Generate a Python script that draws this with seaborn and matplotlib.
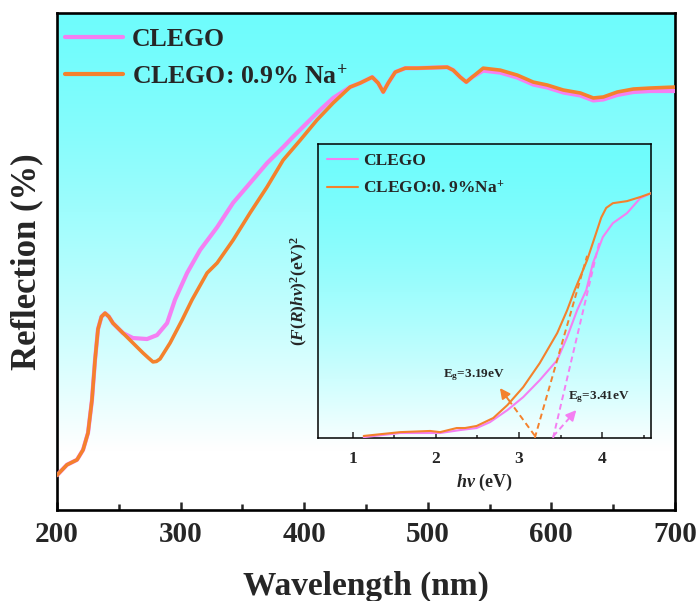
import numpy as np
import pandas as pd
import matplotlib
matplotlib.use("Agg")
import matplotlib.pyplot as plt
import seaborn as sns
from matplotlib.colors import to_rgb
from matplotlib.ticker import MultipleLocator

# ---------------- data: diffuse reflectance spectra ----------------
wl_clego = [200, 208.1, 216.2, 221.1, 225.1, 228.3, 230.8, 233.2, 236.0, 238.9, 242.0,
            245.3, 253.4, 261.5, 272.9, 281.0, 289.1, 295.5, 305.3, 315.8, 329.6, 342.5,
            356.3, 370.0, 383.0, 391.1, 402.4, 413.0, 423.5, 437.2, 445.3, 455.1, 459.9,
            464.0, 468.0, 473.7, 481.8, 491.5, 515.8, 520.6, 526.3, 531.2, 536.0, 544.9,
            558.7, 572.5, 585.4, 596.8, 609.7, 623.5, 634.0, 642.1, 653.4, 666.4, 680.2,
            700]
refl_clego = [7.0, 9.1, 10.1, 12.1, 15.5, 22.1, 30.2, 36.4, 38.9, 39.6, 38.9,
              37.6, 35.6, 34.6, 34.4, 35.2, 37.6, 42.3, 47.7, 52.3, 56.9, 61.8,
              65.8, 69.8, 73.0, 75.1, 77.9, 80.5, 82.9, 85.1, 85.9, 87.1, 85.9,
              84.1, 85.9, 88.1, 88.9, 88.9, 89.1, 88.5, 87.1, 86.1, 87.1, 88.4,
              88.0, 87.0, 85.6, 85.0, 84.0, 83.4, 82.4, 82.6, 83.5, 84.1, 84.3,
              84.3]

wl_na = [200, 208.1, 216.2, 221.1, 225.1, 228.3, 230.8, 233.2, 236.0, 238.9, 242.0,
         245.3, 253.4, 261.5, 269.6, 274.0, 277.7, 280.5, 283.4, 291.5, 301.2, 309.3,
         321.5, 329.6, 342.5, 356.3, 370.0, 383.0, 396.8, 410.5, 423.5, 437.2, 445.3,
         455.1, 459.9, 464.0, 468.0, 473.7, 481.8, 491.5, 515.8, 520.6, 526.3, 531.2,
         536.0, 544.9, 558.7, 572.5, 585.4, 596.8, 609.7, 623.5, 634.0, 642.1, 653.4,
         666.4, 680.2, 700]
refl_na = [7.0, 9.1, 10.1, 12.1, 15.5, 22.1, 30.2, 36.4, 38.9, 39.6, 38.9,
           37.6, 35.6, 33.6, 31.6, 30.6, 29.8, 29.9, 30.4, 33.6, 38.2, 42.3,
           47.7, 49.7, 54.3, 59.8, 65.0, 70.4, 74.4, 78.5, 81.9, 85.1, 85.9,
           87.1, 85.9, 84.1, 85.9, 88.1, 88.9, 88.9, 89.1, 88.5, 87.1, 86.1,
           87.1, 88.9, 88.5, 87.5, 86.1, 85.5, 84.5, 83.9, 82.9, 83.1, 84.1,
           84.7, 84.9, 85.1]

# ---------------- data: Tauc plot ----------------
ev_clego = [1.13, 1.57, 2.05, 2.29, 2.49, 2.65, 2.86, 3.05, 3.25, 3.46, 3.58, 3.70,
            3.81, 3.89, 4.01, 4.13, 4.30, 4.46, 4.59]
tauc_clego = [0.3, 1.7, 1.7, 2.7, 3.4, 5.4, 9.5, 13.9, 19.7, 26.5, 34.4, 43.5,
              50.3, 59.5, 68.4, 73.1, 76.5, 81.6, 83.3]

ev_na = [1.13, 1.57, 1.93, 2.05, 2.25, 2.35, 2.49, 2.69, 2.86, 3.05, 3.25, 3.46,
         3.58, 3.67, 3.82, 3.94, 3.99, 4.05, 4.13, 4.30, 4.46, 4.59]
tauc_na = [0.7, 2.0, 2.4, 2.0, 3.4, 3.4, 4.1, 6.8, 11.2, 17.3, 25.5, 35.7,
           43.5, 50.3, 60.5, 70.7, 75.0, 78.3, 79.9, 80.6, 82.0, 83.3]

eg_clego = 3.41
eg_na = 3.19

label_clego = "CLEGO"
label_na = "CLEGO: 0.9% Na$^{+}$"
inset_label_na = "CLEGO:0. 9%Na$^{+}$"

PINK = "#f47ff2"
ORANGE = "#f4812c"
CYAN = "#6ffcfc"

# ---------------- style ----------------
sns.set_style("white")
plt.rcParams["font.family"] = ["Liberation Serif", "DejaVu Serif"]
plt.rcParams["font.weight"] = "bold"
plt.rcParams["mathtext.fontset"] = "custom"
plt.rcParams["mathtext.rm"] = "Liberation Serif:bold"
plt.rcParams["mathtext.bf"] = "Liberation Serif:bold"
plt.rcParams["mathtext.it"] = "Liberation Serif:italic:bold"


def gradient_background(ax, fade_end, power):
    t = np.linspace(0, 1, 256)[:, None]           # 0 = top, 1 = bottom
    f = np.clip(t / fade_end, 0, 1) ** power
    c = np.array(to_rgb(CYAN))
    img = (1 - f)[..., None] * c + f[..., None] * np.ones(3)
    img = np.repeat(img, 2, axis=1)
    ax.imshow(img, extent=[0, 1, 0, 1], transform=ax.transAxes,
              aspect="auto", zorder=0, interpolation="bilinear")


fig = plt.figure(figsize=(6.99, 6.01), dpi=100)

# ---------------- main axes ----------------
ax = fig.add_axes([0.0815, 0.1514, 0.884, 0.827])
gradient_background(ax, 0.88, 1.4)

df_main_c = pd.DataFrame({"Wavelength": wl_clego, "R": refl_clego})
df_main_n = pd.DataFrame({"Wavelength": wl_na, "R": refl_na})
sns.lineplot(data=df_main_c, x="Wavelength", y="R", ax=ax, color=PINK, lw=3.0,
             label=label_clego, zorder=3)
sns.lineplot(data=df_main_n, x="Wavelength", y="R", ax=ax, color=ORANGE, lw=2.6,
             label=label_na, zorder=4)

ax.set_xlim(200, 700)
ax.set_ylim(0, 100)
ax.xaxis.set_major_locator(MultipleLocator(100))
ax.xaxis.set_minor_locator(MultipleLocator(50))
ax.set_yticks([])
ax.tick_params(axis="x", which="major", direction="in", length=6, width=1.8,
               labelsize=21, pad=8, top=False, bottom=True)
ax.tick_params(axis="x", which="minor", direction="in", length=4, width=1.8,
               top=False, bottom=True)
for s in ax.spines.values():
    s.set_linewidth(1.9)
    s.set_color("black")
ax.set_xlabel("Wavelength (nm)", fontsize=24, fontweight="bold", labelpad=16)
ax.set_ylabel("Reflection (%)", fontsize=25, fontweight="bold", labelpad=10)

leg = ax.legend(loc="upper left", bbox_to_anchor=(-0.012, 1.0), frameon=False,
                fontsize=18.5, handlelength=2.25, handletextpad=0.35,
                labelspacing=0.5, borderaxespad=0.0, borderpad=0.6)
for line in leg.get_lines():
    line.set_linewidth(3.0)

# ---------------- inset: Tauc plot ----------------
axin = fig.add_axes([0.455, 0.2712, 0.4764, 0.489])
gradient_background(axin, 1.05, 1.5)

df_in_c = pd.DataFrame({"hv": ev_clego, "F": tauc_clego})
df_in_n = pd.DataFrame({"hv": ev_na, "F": tauc_na})
sns.lineplot(data=df_in_c, x="hv", y="F", ax=axin, color=PINK, lw=1.5,
             label=label_clego, zorder=3)
sns.lineplot(data=df_in_n, x="hv", y="F", ax=axin, color=ORANGE, lw=1.5,
             label=inset_label_na, zorder=4)

# tangent extrapolations to the energy axis
axin.plot([eg_na, 3.82], [0, 62], ls=(0, (3, 2)), color=ORANGE, lw=1.4, zorder=5)
axin.plot([eg_clego, 3.97], [0, 67], ls=(0, (3, 2)), color=PINK, lw=1.4, zorder=5)

# arrows pointing from the intercepts to the band-gap labels
def dashed_arrow(ax, start, end, color):
    sx, sy = start
    ex, ey = end
    mx, my = sx + 0.75 * (ex - sx), sy + 0.75 * (ey - sy)
    ax.plot([sx, mx], [sy, my], ls=(0, (3, 2)), color=color, lw=1.4, zorder=5)
    ax.annotate("", xy=(ex, ey), xytext=(mx, my),
                arrowprops=dict(arrowstyle="-|>,head_length=0.6,head_width=0.3",
                                color=color, lw=1.4, shrinkA=0, shrinkB=0),
                zorder=5)

dashed_arrow(axin, (eg_na, 0.8), (2.77, 17.0), ORANGE)
dashed_arrow(axin, (eg_clego, 0.5), (3.69, 9.5), PINK)

axin.text(2.08, 21.5, f"E$_\\mathrm{{g}}$={eg_na}eV", fontsize=9.5,
          fontweight="bold", va="center", ha="left", zorder=6)
axin.text(3.59, 14.0, f"E$_\\mathrm{{g}}$={eg_clego}eV", fontsize=9.5,
          fontweight="bold", va="center", ha="left", zorder=6)

axin.set_xlim(0.58, 4.59)
axin.set_ylim(0, 100)
axin.xaxis.set_major_locator(MultipleLocator(1))
axin.xaxis.set_minor_locator(MultipleLocator(0.5))
axin.set_yticks([])
axin.tick_params(axis="x", which="major", direction="in", length=4, width=1.1,
                 labelsize=12.5, pad=9, top=False, bottom=True)
axin.tick_params(axis="x", which="minor", direction="in", length=2.5, width=1.1,
                 top=False, bottom=True)
for s in axin.spines.values():
    s.set_linewidth(1.1)
    s.set_color("black")
axin.set_xlabel(r"$h\nu$ (eV)", fontsize=13, fontweight="bold", labelpad=4)
axin.set_ylabel(r"$\mathit{(F(R)h\nu)}^{2}$(eV)$^{2}$", fontsize=12.5,
                fontweight="bold", labelpad=6)

leg2 = axin.legend(loc="upper left", bbox_to_anchor=(0.0, 1.0), frameon=False,
                   fontsize=12.5, handlelength=1.8, handletextpad=0.3,
                   labelspacing=0.65, borderaxespad=0.0, borderpad=0.5)
for line in leg2.get_lines():
    line.set_linewidth(1.5)

fig.savefig("out.png", dpi=100)
